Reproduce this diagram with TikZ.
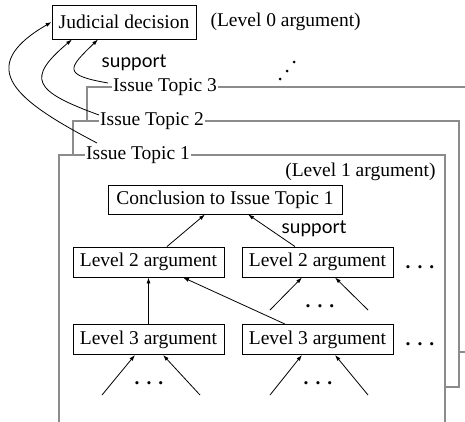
\documentclass[tikz,border=0pt]{standalone}
\usepackage{fontspec}
\setmainfont{Liberation Serif}
\newfontfamily\supfont{Lato}
\usetikzlibrary{arrows.meta}
\tikzset{
	argbox/.style={draw,line width=0.9pt,minimum height=30pt,inner sep=0pt},
	issueframe/.style={draw=black!45,fill=white,line width=1.1pt},
	issuelabel/.style={fill=white,anchor=west,inner xsep=1pt,inner ysep=0pt},
	sarrow/.style={-{Latex[length=6pt,width=4pt]},line width=0.8pt},
	suplabel/.style={font=\supfont\fontsize{19}{22}\selectfont},
}
\newcommand{\threedots}{\textbf{.}\hspace{7pt}\textbf{.}\hspace{7pt}\textbf{.}}

\begin{document}
\begin{tikzpicture}[x=1pt,y=-1pt,font=\fontsize{19.5}{23}\selectfont]
		\useasboundingbox (0,0) rectangle (465,421);
		\clip (0,0) rectangle (465,421);
		% issue topic frames, back to front
		\draw[issueframe] (87,87) rectangle (480,352);
		\draw[issueframe] (73,121) rectangle (459,387);
		\draw[issueframe] (59,155) rectangle (445,440);
		\node[issuelabel] (t3) at (112,87) {Issue Topic 3};
		\node[issuelabel] (t2) at (99,121) {Issue Topic 2};
		\node[issuelabel] (t1) at (85,155) {Issue Topic 1};
		% level 0
		\node[argbox,minimum width=144pt,minimum height=34pt] (jd) at (124,22) {Judicial decision};
		\node[anchor=west] (lv0) at (207,22) {(Level 0 argument)};
		\node[suplabel] (sup0) at (134,63) {support};
		\foreach \x/\y in {280/79,287/71,294/62}{\fill (\x,\y) circle (1.5pt);}
		\draw[sarrow] ([xshift=-4pt,yshift=4pt]t3.west) .. controls +(-46,-8) and +(-30,29) .. ([xshift=-26pt]jd.south);
		\draw[sarrow] ([yshift=6pt]t2.west) .. controls +(-66,-24) and +(-46,39) .. ([xshift=-52pt]jd.south);
		\draw[sarrow] ([xshift=12pt,yshift=12pt]t1.west) .. controls +(-80,-42) and +(-79,46) .. (jd.west);
		% level 1 and below
		\node[anchor=east] (lv1) at (439,172) {(Level 1 argument)};
		\node[argbox,minimum width=234pt,minimum height=29pt] (concl) at (225,199.5) {Conclusion to Issue Topic 1};
		\node[argbox,minimum width=151pt] (l2a) at (148.5,262) {Level 2 argument};
		\node[argbox,minimum width=151pt] (l2b) at (317.5,262) {Level 2 argument};
		\node[argbox,minimum width=151pt] (l3a) at (148.5,339.5) {Level 3 argument};
		\node[argbox,minimum width=151pt] (l3b) at (317.5,339.5) {Level 3 argument};
		\node[anchor=base] (d2) at (420,268) {\threedots};
		\node[anchor=base] (d3) at (420,345) {\threedots};
		\node[suplabel] (sup1) at (314,229) {support};
		\draw[sarrow] ([xshift=18.5pt]l2a.north) -- ([xshift=-20pt]concl.south);
		\draw[sarrow] ([xshift=-22.5pt]l2b.north) -- ([xshift=23pt]concl.south);
		\draw[sarrow] (l3a.north) -- (l2a.south);
		\draw[sarrow] ([xshift=-32.5pt]l3b.north) -- ([xshift=34.5pt]l2a.south);
		% open branches under the boxes
		\path (270,310) coordinate (b1) (368,310) coordinate (b2)
			(102,395) coordinate (b3) (200,395) coordinate (b4)
			(270,395) coordinate (b5) (368,395) coordinate (b6);
		\node[anchor=base] (d4) at (320,307) {\threedots};
		\node[anchor=base] (d5) at (149,384) {\threedots};
		\node[anchor=base] (d6) at (318,384) {\threedots};
		\draw[sarrow] (b1) -- ([xshift=-15.5pt]l2b.south);
		\draw[sarrow] (b2) -- ([xshift=17.5pt]l2b.south);
		\draw[sarrow] (b3) -- ([xshift=-13.5pt]l3a.south);
		\draw[sarrow] (b4) -- ([xshift=14.5pt]l3a.south);
		\draw[sarrow] (b5) -- ([xshift=-15.5pt]l3b.south);
		\draw[sarrow] (b6) -- ([xshift=17.5pt]l3b.south);
\end{tikzpicture}
\end{document}
